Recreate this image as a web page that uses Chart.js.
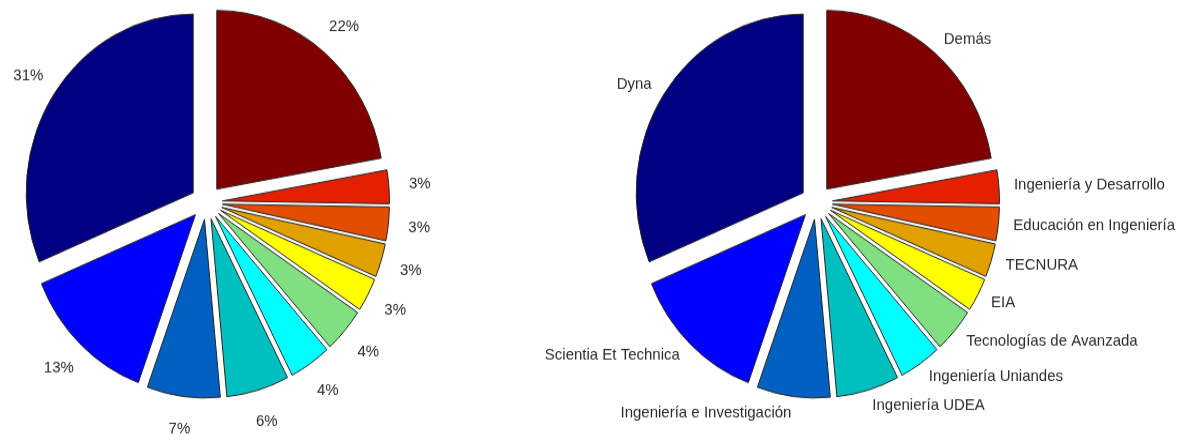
<!DOCTYPE html>
<html lang="es">
<head>
<meta charset="utf-8">
<title>Distribución de artículos por revista</title>
<script src="https://cdn.jsdelivr.net/npm/chart.js"></script>
<style>
  html, body { margin: 0; padding: 0; background: #fff; }
  .row { display: flex; width: 1181px; height: 442px; overflow: hidden; }
  /* the source figure is stretched a little vertically, so are the pies here */
  .row canvas { flex: none; transform: scaleY(1.0702); transform-origin: 0 0; }
</style>
</head>
<body>
<div class="row">
  <canvas id="share-chart" width="520" height="413"></canvas>
  <canvas id="name-chart" width="661" height="413"></canvas>
</div>
<script>
// slices clockwise from 12 o'clock
const journals = [
  "Demás",
  "Ingeniería y Desarrollo",
  "Educación en Ingeniería",
  "TECNURA",
  "EIA",
  "Tecnologías de Avanzada",
  "Ingeniería Uniandes",
  "Ingeniería UDEA",
  "Ingeniería e Investigación",
  "Scientia Et Technica",
  "Dyna"
];
const shares = [22, 3, 3, 3, 3, 4, 4, 6, 7, 13, 31];
const sliceColors = [
  "#800000", "#e32000", "#e24d00", "#e0a000", "#ffff00", "#80df80",
  "#00ffff", "#00bfbf", "#0060c0", "#0000ff", "#000080"
];

const total = shares.reduce((a, b) => a + b, 0);
const percentLabels = shares.map(v => Math.round(v / total * 100) + "%");

// pull every slice out along its bisector (like MATLAB's explode)
const explode = {
  id: "explode",
  beforeDatasetDraw(chart, args, opts) {
    const ctx = chart.ctx;
    args.meta.data.forEach(arc => {
      const mid = (arc.startAngle + arc.endAngle) / 2;
      ctx.save();
      ctx.translate(Math.cos(mid) * opts.distance, Math.sin(mid) * opts.distance);
      arc.draw(ctx);
      ctx.restore();
    });
    return false; // skip the default drawing
  }
};

// text next to each slice
const sliceLabels = {
  id: "sliceLabels",
  afterDatasetsDraw(chart, args, opts) {
    const ctx = chart.ctx;
    const arcs = chart.getDatasetMeta(0).data;
    ctx.save();
    ctx.font = opts.font;
    ctx.fillStyle = opts.color;
    ctx.textBaseline = "middle";
    arcs.forEach((arc, i) => {
      const mid = (arc.startAngle + arc.endAngle) / 2;
      const x = arc.x + Math.cos(mid) * opts.distance;
      const y = arc.y + Math.sin(mid) * opts.distance;
      if (opts.sideAligned) {
        ctx.textAlign = Math.cos(mid) >= 0 ? "left" : "right";
      } else {
        ctx.textAlign = "center";
      }
      ctx.fillText(opts.texts[i], x, y);
    });
    ctx.restore();
  }
};

// chart area is a 413 x 378 box starting at the canvas' top left corner,
// padRight only decides where the pie centre falls
function makePie(id, padRight, labelOpts) {
  return new Chart(document.getElementById(id), {
    type: "pie",
    data: {
      labels: journals,
      datasets: [{
        data: shares,
        backgroundColor: sliceColors,
        borderColor: "#262626",
        borderWidth: 1,
        radius: 167
      }]
    },
    options: {
      responsive: false,
      animation: false,
      layout: { padding: { left: 0, top: 0, right: padRight, bottom: 35 } },
      plugins: {
        legend: { display: false },
        tooltip: { enabled: false },
        explode: { distance: 16 },
        sliceLabels: Object.assign({
          font: "15px 'Liberation Sans', Arial, sans-serif",
          color: "#2b2b2b"
        }, labelOpts)
      }
    },
    plugins: [explode, sliceLabels]
  });
}

// left: percentages, right: journal names
makePie("share-chart", 107, { texts: percentLabels, distance: 214, sideAligned: false });
makePie("name-chart", 68, { texts: journals, distance: 198, sideAligned: true });
</script>
</body>
</html>
